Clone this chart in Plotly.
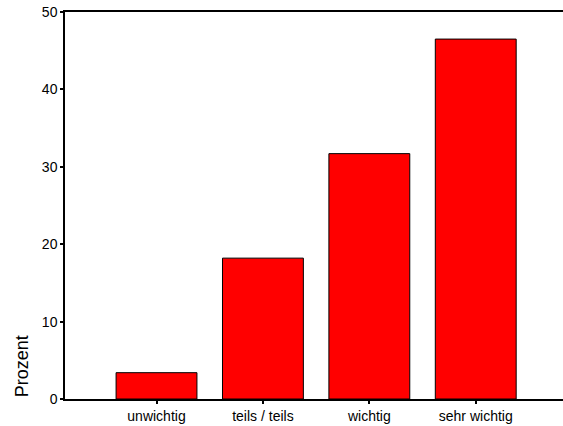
import plotly.graph_objects as go

categories = ["unwichtig", "teils / teils", "wichtig", "sehr wichtig"]
percent = [3.4, 18.2, 31.7, 46.5]
y_ticks = [0, 10, 20, 30, 40, 50]

fig = go.Figure(go.Bar(
    x=categories, y=percent,
    marker=dict(color="#FF0000", line=dict(color="black", width=1)),
    width=0.76,
))

fig.update_layout(
    width=563, height=426,
    margin=dict(l=65, r=0, t=12, b=27),
    plot_bgcolor="white", paper_bgcolor="white",
    font=dict(family="Liberation Sans, Arial", size=14, color="black"),
    showlegend=False,
    xaxis=dict(
        range=[-0.86, 3.82], showline=True, linecolor="black", linewidth=1.5,
        mirror=True, ticks="outside", ticklen=3, tickwidth=2, tickcolor="black",
        showgrid=False, tickfont=dict(size=14),
    ),
    yaxis=dict(
        range=[0, 50], tickvals=y_ticks, showline=True, linecolor="black",
        linewidth=1.5, ticks="outside", ticklen=3, tickwidth=2, tickcolor="black",
        showgrid=False, zeroline=False, tickfont=dict(size=14),
    ),
    annotations=[dict(
        text="Prozent", textangle=-90, xref="paper", yref="paper",
        x=-0.11, y=0.0, xanchor="left", yanchor="bottom",
        showarrow=False, font=dict(size=18),
    )],
)

fig.write_html(
    "out.html",
    config={"displayModeBar": False},
    post_script="document.body.style.margin='0';document.body.style.overflow='hidden';",
)
